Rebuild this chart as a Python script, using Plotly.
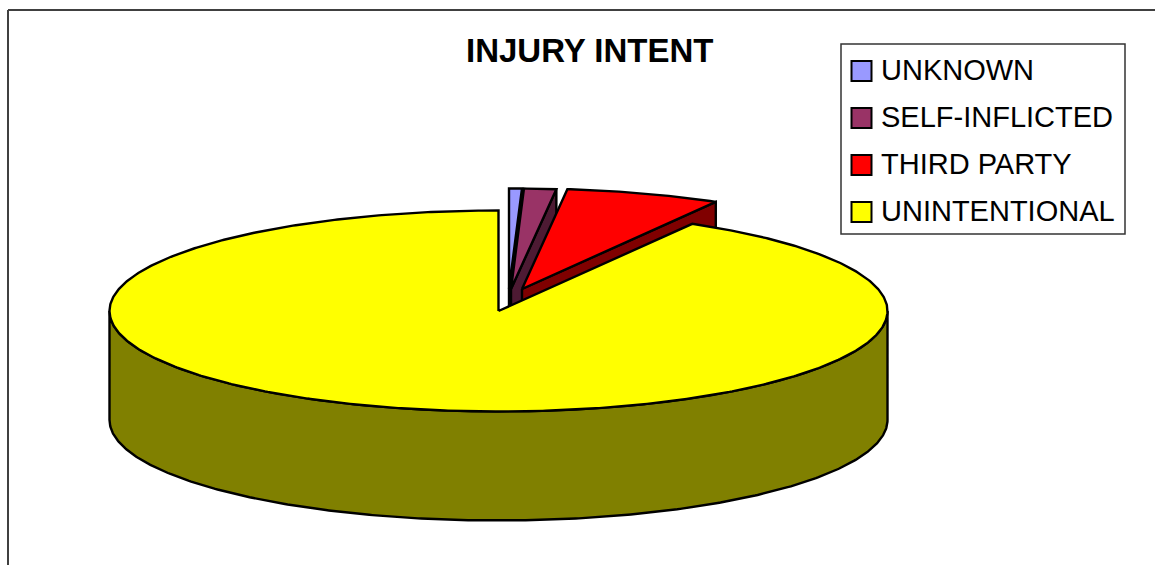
import math
import plotly.graph_objects as go

# Data (share of the pie, percent)
categories = ["UNKNOWN", "SELF-INFLICTED", "THIRD PARTY", "UNINTENTIONAL"]
values = [0.53, 1.33, 6.44, 91.7]
title_text = "INJURY INTENT"

# Styles
top_colors = ["#9999FF", "#993366", "#FF0000", "#FFFF00"]
side_colors = ["#4C4C80", "#4D1A33", "#800000", "#808000"]
# Explosion offset of each slice's apex from the pie centre (screen units)
explode = [(10.5, -22), (12.5, -22), (23.5, -22), (0, 0)]

# Projection of the tilted pie
CX, CY, RX, RY, DEPTH = 498.5, 311, 389, 100.5, 109
LINE = dict(color="#000000", width=2.4)

fig = go.Figure()


def rim(cx, cy, a0, a1, dy=0.0):
    n = max(2, int(abs(a1 - a0) * 2) + 2)
    xs, ys = [], []
    for i in range(n + 1):
        a = math.radians(a0 + (a1 - a0) * i / n)
        xs.append(cx + RX * math.sin(a))
        ys.append(cy - RY * math.cos(a) + dy)
    return xs, ys


def poly(xs, ys, color, name):
    fig.add_trace(go.Scatter(
        x=xs + xs[:1], y=ys + ys[:1], mode="lines", fill="toself",
        fillcolor=color, line=LINE, name=name, hoverinfo="name",
        showlegend=False,
    ))


start = 0.0
for name, val, top, side, (ox, oy) in zip(categories, values, top_colors, side_colors, explode):
    end = start + val * 3.6
    cx, cy = CX + ox, CY + oy
    if end < 180:
        # radial face that looks towards the viewer
        ex, ey = rim(cx, cy, end, end)
        poly([cx, ex[0], ex[0], cx], [cy, ey[0], ey[0] + DEPTH, cy + DEPTH], side, name)
    else:
        # outer wall along the front half of the pie
        xa, ya = rim(cx, cy, max(start, 90), min(end, 270))
        xb, yb = rim(cx, cy, min(end, 270), max(start, 90), DEPTH)
        poly(xa + xb, ya + yb, side, name)
    xs, ys = rim(cx, cy, start, end)
    poly([cx] + xs, [cy] + ys, top, name)
    start = end

# Legend swatches
legend_x = 861.5
legend_y = [71, 118, 165, 212]
fig.add_trace(go.Scatter(
    x=[legend_x] * len(categories), y=legend_y, mode="markers",
    marker=dict(symbol="square", size=20, color=top_colors,
                line=dict(color="#000000", width=2)),
    text=categories, hoverinfo="text", showlegend=False,
))

annotations = [
    dict(x=878.5, y=yy - 1, text=c, xref="x", yref="y", xanchor="left", yanchor="middle",
         showarrow=False, font=dict(family="Liberation Sans", size=29, color="#000000"))
    for c, yy in zip(categories, legend_y)
]
annotations.append(dict(
    x=590, y=50, text="<b>%s</b>" % title_text, xref="x", yref="y",
    xanchor="center", yanchor="middle", showarrow=False,
    font=dict(family="Liberation Sans", size=33, color="#000000"),
))

shapes = [
    dict(type="rect", xref="x", yref="y", x0=841, x1=1125, y0=44, y1=234,
         line=dict(color="#333333", width=1.5), fillcolor="#FFFFFF", layer="below"),
    dict(type="line", xref="x", yref="y", x0=8, x1=1155, y0=10, y1=10,
         line=dict(color="#404040", width=2)),
    dict(type="line", xref="x", yref="y", x0=8, x1=8, y0=10, y1=565,
         line=dict(color="#404040", width=2)),
]

fig.update_layout(
    width=1155, height=565, margin=dict(l=0, r=0, t=0, b=0),
    paper_bgcolor="#FFFFFF", plot_bgcolor="#FFFFFF",
    xaxis=dict(range=[0, 1155], visible=False, fixedrange=True),
    yaxis=dict(range=[565, 0], visible=False, fixedrange=True),
    annotations=annotations, shapes=shapes, showlegend=False,
)

fig.write_html("out.html", config={"displayModeBar": False},
               post_script="document.body.style.margin='0';document.body.style.overflow='hidden';")
